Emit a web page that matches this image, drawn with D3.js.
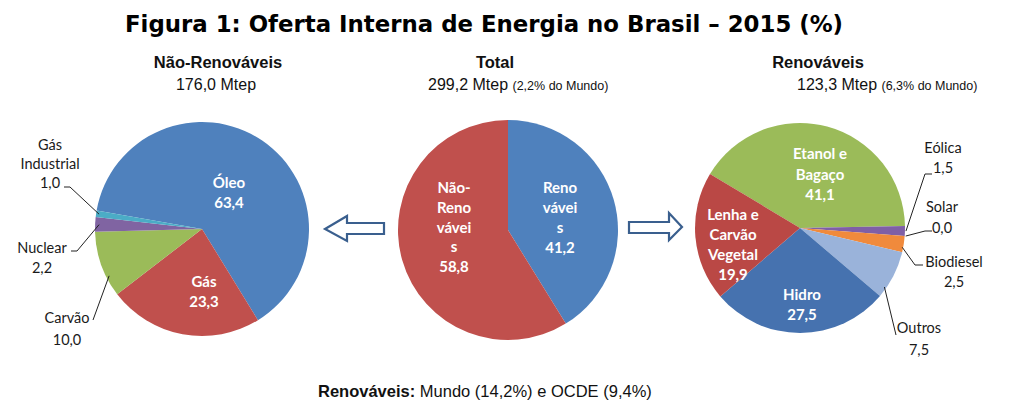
<!DOCTYPE html>
<html lang="pt">
<head>
  <meta charset="UTF-8">
  <title>Oferta Interna de Energia no Brasil – 2015</title>
  <script src="https://d3js.org/d3.v7.min.js"></script>
  <style>
    body { margin: 0; background: #fff; }
    .head { font-family: 'Liberation Sans', Arial, sans-serif; fill: #111; }
    .in-label { font-family: Lato, 'Noto Sans', sans-serif; font-weight: bold; fill: #fff; font-size: 15px; }
    .out-label { font-family: Lato, 'Noto Sans', sans-serif; fill: #1a1a1a; font-size: 14.5px; }
    .leader { fill: none; stroke: #222; stroke-width: 1; }
  </style>
</head>
<body>
  <svg id="chart" width="1024" height="419"></svg>

  <script>
    // dados (%)
    const naoRenovLabels = ["Óleo", "Gás", "Carvão", "Nuclear", "Gás Industrial"];
    const naoRenovValues = [63.4, 23.3, 10.0, 2.2, 1.0];
    const naoRenovColors = ["#4F81BD", "#C0504D", "#9BBB59", "#8064A2", "#4BACC6"];

    const totalLabels = ["Renováveis", "Não-Renováveis"];
    const totalValues = [41.2, 58.8];
    const totalColors = ["#4F81BD", "#C0504D"];

    const renovLabels = ["Etanol e Bagaço", "Eólica", "Solar", "Biodiesel", "Outros", "Hidro", "Lenha e Carvão Vegetal"];
    const renovValues = [41.1, 1.5, 0.0, 2.5, 7.5, 27.5, 19.9];
    const renovColors = ["#9BBB59", "#7F5FA6", "#4BACC6", "#F08A3C", "#9AB3DA", "#4672AF", "#BA4845"];

    const fmt = v => d3.format(".1f")(v).replace(".", ",");
    const svg = d3.select("#chart");

    // titulo
    svg.append("text")
      .attr("x", 484).attr("y", 32)
      .attr("text-anchor", "middle")
      .attr("textLength", 718).attr("lengthAdjust", "spacingAndGlyphs")
      .style("font-family", "'DejaVu Sans', Verdana, sans-serif")
      .style("font-weight", "bold").style("font-size", "23px").style("fill", "#000")
      .text("Figura 1: Oferta Interna de Energia no Brasil – 2015 (%)");

    function header(x, title) {
      svg.append("text").attr("class", "head")
        .attr("x", x).attr("y", 68).attr("text-anchor", "middle")
        .style("font-weight", "bold").style("font-size", "16.5px")
        .text(title);
      return svg.append("text").attr("class", "head")
        .attr("y", 90).style("font-size", "16px");
    }

    // cabeçalhos
    header(218, "Não-Renováveis").attr("x", 216).attr("text-anchor", "middle").text("176,0 Mtep");
    const t2 = header(495, "Total").attr("x", 428);
    t2.append("tspan").text("299,2 Mtep ");
    t2.append("tspan").style("font-size", "12.5px").text("(2,2% do Mundo)");
    const t3 = header(818, "Renováveis").attr("x", 797);
    t3.append("tspan").text("123,3  Mtep ");
    t3.append("tspan").style("font-size", "12.5px").text("(6,3% do Mundo)");

    // desenha uma pizza
    function drawPie(cx, cy, r, labels, values, colors, startDeg) {
      const a0 = startDeg * Math.PI / 180;
      const arcsData = d3.pie().sort(null).value(d => d.value)
        .startAngle(a0).endAngle(a0 + 2 * Math.PI)(
          values.map((v, i) => ({ label: labels[i], value: v, color: colors[i] })));
      const arc = d3.arc().innerRadius(0).outerRadius(r);
      const g = svg.append("g").attr("transform", `translate(${cx},${cy})`);
      g.selectAll("path").data(arcsData).enter().append("path")
        .attr("d", arc).attr("fill", d => d.data.color);
      // ponto na borda de um setor
      const edge = (i, t, rr) => {
        const d = arcsData[i];
        const a = d.startAngle + (d.endAngle - d.startAngle) * t;
        const R = rr || r;
        return [cx + R * Math.sin(a), cy - R * Math.cos(a)];
      };
      return { g, arcsData, edge };
    }

    function inLabel(x, y, lines, lh) {
      const t = svg.append("text").attr("class", "in-label").attr("text-anchor", "middle");
      lines.forEach((l, i) => t.append("tspan").attr("x", x).attr("y", y + i * lh).text(l));
    }
    function outLabel(x, y, lines, lh) {
      const t = svg.append("text").attr("class", "out-label").attr("text-anchor", "middle");
      lines.forEach((l, i) => t.append("tspan").attr("x", x).attr("y", y + i * lh).text(l));
    }
    const line = d3.line();
    function leader(pts) {
      svg.append("path").attr("class", "leader").attr("d", line(pts));
    }

    // ---- pizza da esquerda ----
    const left = drawPie(202, 229, 107, naoRenovLabels, naoRenovValues, naoRenovColors, -80);
    inLabel(229, 188, ["Óleo", fmt(naoRenovValues[0])], 20);
    inLabel(204, 287, ["Gás", fmt(naoRenovValues[1])], 20);
    outLabel(50, 150, ["Gás", "Industrial", fmt(naoRenovValues[4])], 19);
    leader([[64, 187], [70, 187], left.edge(4, 0.5, 104)]);
    outLabel(42, 253, ["Nuclear", fmt(naoRenovValues[3])], 20);
    leader([[71, 251], [77, 251], left.edge(3, 0.5, 103)]);
    outLabel(67, 323, ["Carvão", fmt(naoRenovValues[2])], 22);
    leader([[93, 320], left.edge(2, 0.3, 104)]);

    // ---- pizza central ----
    drawPie(508, 230, 110, totalLabels, totalValues, totalColors, 0);
    inLabel(454, 193, ["Não-", "Reno", "vávei", "s", fmt(totalValues[1])], 19.8);
    inLabel(560, 193, ["Reno", "vávei", "s", fmt(totalValues[0])], 20);

    // ---- pizza da direita ----
    const right = drawPie(800, 228, 105, renovLabels, renovValues, renovColors, -59);
    inLabel(820, 159, ["Etanol e", "Bagaço", fmt(renovValues[0])], 20.5);
    inLabel(733, 220, ["Lenha e", "Carvão", "Vegetal", fmt(renovValues[6])], 20);
    inLabel(802, 300, ["Hidro", fmt(renovValues[5])], 20);
    outLabel(943, 153, ["Eólica", fmt(renovValues[1])], 20);
    leader([[932, 174], [925, 174], right.edge(1, 0.5, 106)]);
    outLabel(942, 212, ["Solar", fmt(renovValues[2])], 21);
    leader([[932, 231], [925, 231], right.edge(2, 0.5, 106)]);
    outLabel(954, 267, ["Biodiesel", fmt(renovValues[3])], 20);
    leader([right.edge(3, 0.7, 104), [915, 265], [923, 265]]);
    outLabel(919, 333, ["Outros", fmt(renovValues[4])], 22);
    leader([right.edge(4, 0.8, 103), [896, 335]]);

    // ---- setas ----
    const arrowStroke = "#3A5F8E";
    const la = [[325, 229], [347, 216], [347, 223], [384, 223], [384, 234], [347, 234], [347, 241]];
    svg.append("path").attr("d", d3.line()(la) + "Z")
      .attr("fill", "#fff").attr("stroke", arrowStroke).attr("stroke-width", 2.2);
    const ra = [[682, 227], [669, 213], [669, 222], [629, 222], [629, 233], [669, 233], [669, 240]];
    svg.append("path").attr("d", d3.line()(ra) + "Z")
      .attr("fill", "#fff").attr("stroke", arrowStroke).attr("stroke-width", 2.2);

    // nota
    const note = svg.append("text").attr("class", "head")
      .attr("x", 318).attr("y", 397).style("font-size", "16.5px");
    note.append("tspan").style("font-weight", "bold").text("Renováveis:");
    note.append("tspan").text(" Mundo (14,2%) e OCDE (9,4%)");
  </script>
</body>
</html>
